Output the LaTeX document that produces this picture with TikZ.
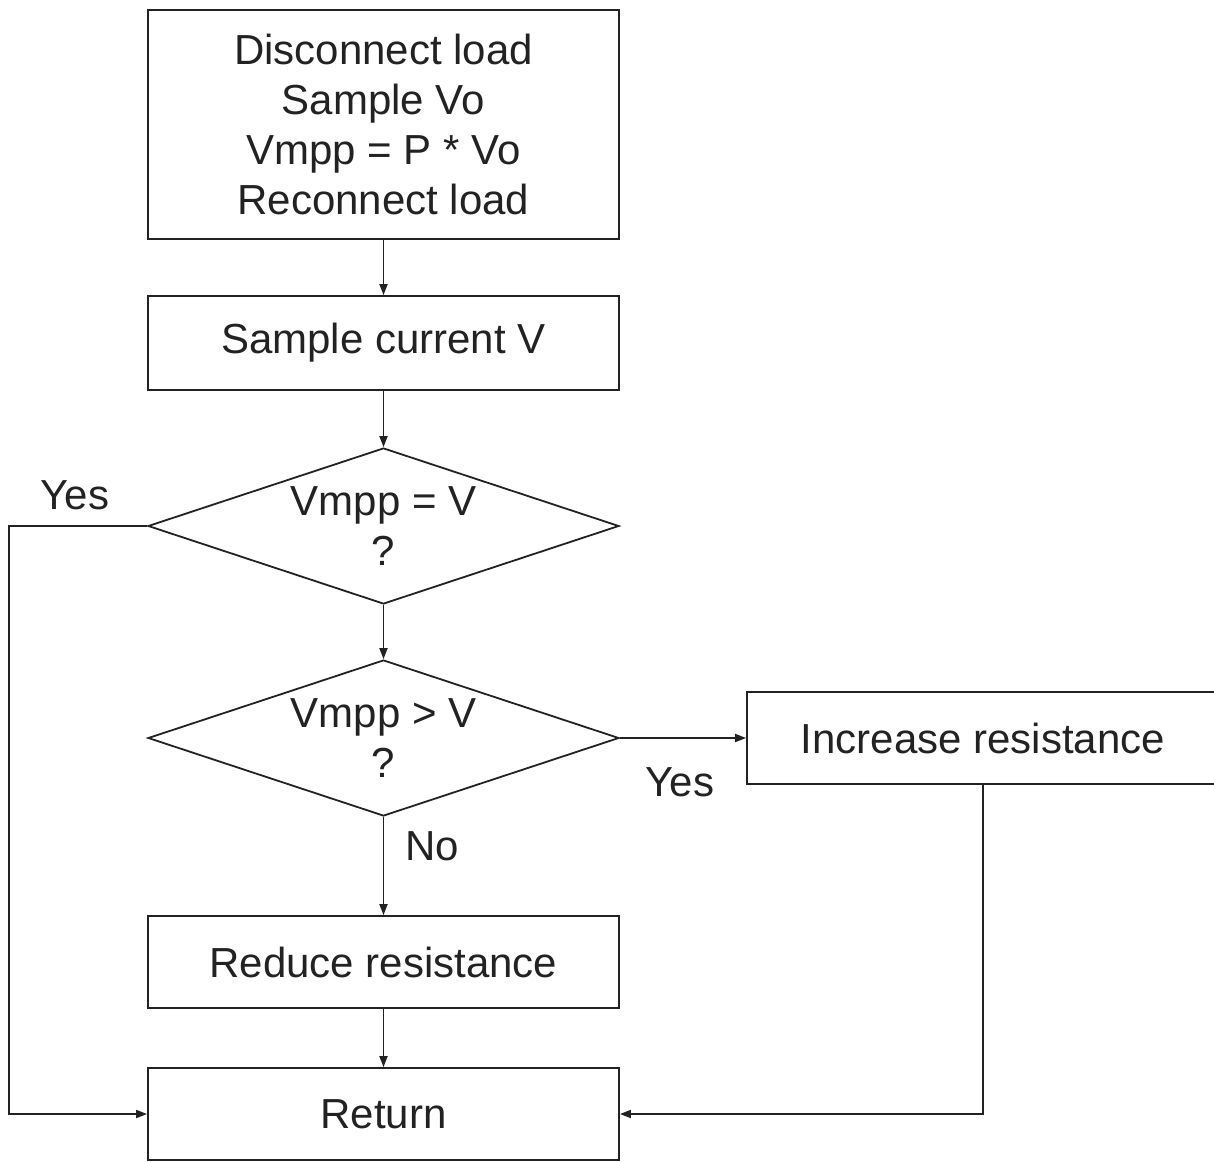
\documentclass[tikz,border=0pt]{standalone}
\usepackage{fontspec}
\setmainfont{Liberation Sans}
\usetikzlibrary{shapes.geometric,arrows.meta}
\definecolor{ink}{HTML}{222222}
\begin{document}
\begin{tikzpicture}[x=1pt,y=-1pt,
  every node/.style={text=ink},
  font=\fontsize{42}{50}\selectfont,
  line width=1.8pt,
  box/.style={draw=ink, rectangle, inner sep=0pt, align=center},
  decide/.style={draw=ink, diamond, aspect=3, inner sep=0pt, align=center, minimum width=471pt, minimum height=156pt},
  arr/.style={draw=ink, -{Triangle[length=11pt,width=8pt]}},
  lbl/.style={inner sep=0pt}
]
\useasboundingbox (0,0) rectangle (1214,1161);
\node[box, minimum width=471pt, minimum height=229pt] (b1) at (383.5,124.5) {Disconnect load\\Sample Vo\\Vmpp = P * Vo\\Reconnect load};
\node[box, minimum width=471pt, minimum height=94pt] (b2) at (383.5,343) {\raisebox{-4pt}{Sample current V}};
\node[decide] (d1) at (383.5,526) {Vmpp = V\\?};
\node[decide] (d2) at (383.5,738) {Vmpp > V\\?};
\node[box, minimum width=472pt, minimum height=92pt] (inc) at (983,738) {Increase resistance};
\node[box, minimum width=471pt, minimum height=92pt] (red) at (383.5,962) {Reduce resistance};
\node[box, minimum width=471pt, minimum height=92pt] (ret) at (383.5,1114) {Return};
\coordinate (yl) at (9,526);
\draw[arr] (b1.south) -- (b2.north);
\draw[arr] (b2.south) -- (d1.north);
\draw[arr] (d1.south) -- (d2.north);
\draw[arr] (d2.south) -- (red.north);
\draw[arr] (d2.east) -- (inc.west);
\draw[arr] (red.south) -- (ret.north);
\draw[arr] (d1.west) -- (yl) |- (ret.west);
\draw[arr] (inc.south) |- (ret.east);
\node[lbl] (ly1) at (75,495) {Yes};
\node[lbl] (ly2) at (680,782) {Yes};
\node[lbl] (ln) at (432,846) {No};
\end{tikzpicture}
\end{document}
